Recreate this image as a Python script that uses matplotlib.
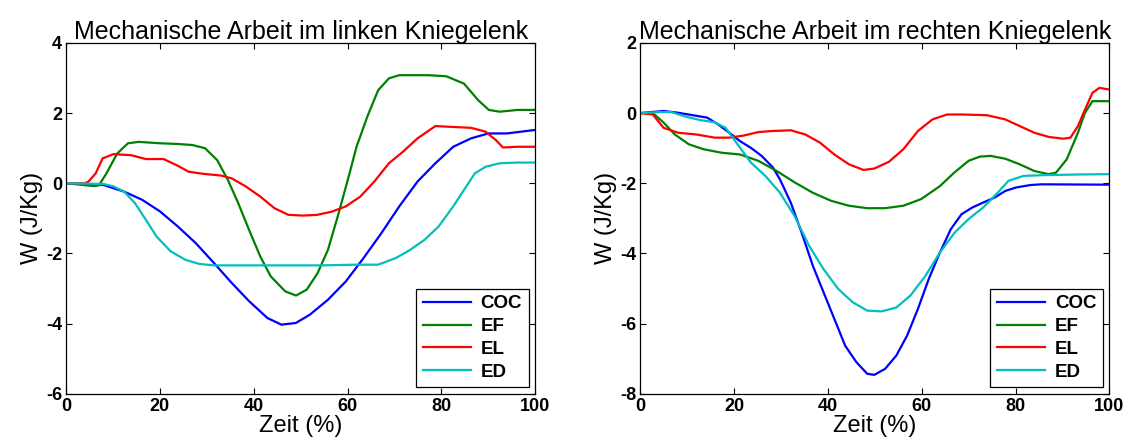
import matplotlib
matplotlib.use("Agg")
import matplotlib.pyplot as plt

plt.rcParams["font.family"] = ["Liberation Sans", "DejaVu Sans"]
plt.rcParams["axes.unicode_minus"] = False

SERIES = ["COC", "EF", "EL", "ED"]
COLORS = {"COC": "#0000ff", "EF": "#008000", "EL": "#ff0000", "ED": "#00bfbf"}

# left knee
left_coc_x = [0, 8, 12.4, 16.2, 20, 23.8, 27.6, 31.5, 35.3, 39, 42.9, 45.9, 49, 52, 55.8, 59.6,
              63.4, 67.2, 71, 74.9, 78.7, 82.5, 86.3, 90, 93.9, 100]
left_coc_y = [0, -0.05, -0.24, -0.47, -0.8, -1.23, -1.7, -2.27, -2.84, -3.36, -3.84, -4.03, -3.98,
              -3.74, -3.32, -2.8, -2.13, -1.42, -0.66, 0.05, 0.57, 1.04, 1.28, 1.42, 1.42, 1.52]
left_ef_x = [0, 6, 7, 8.6, 10.9, 13.2, 15.5, 20, 23.8, 26.9, 29.6, 32.2, 34.5, 36.7, 39, 41.4, 43.6,
             46.7, 49, 51.3, 53.6, 55.8, 58.1, 60.4, 61.9, 64.2, 66.5, 68.8, 71, 77.2, 81, 84.8,
             87.8, 90.1, 92.4, 96.2, 100]
left_ef_y = [0, -0.08, -0.06, 0.28, 0.85, 1.14, 1.18, 1.14, 1.12, 1.09, 1.0, 0.66, 0.09, -0.57,
             -1.33, -2.09, -2.65, -3.08, -3.2, -3.03, -2.56, -1.9, -0.85, 0.28, 1.04, 1.9, 2.65,
             2.99, 3.08, 3.08, 3.05, 2.84, 2.37, 2.09, 2.04, 2.09, 2.09]
left_el_x = [0, 4, 4.8, 6.3, 7.8, 10.1, 13.9, 17, 20.8, 23.8, 26.1, 29.2, 33, 35.3, 38.3, 41.4,
             44.4, 47.4, 50.5, 53.5, 56.6, 59.6, 62.7, 65.7, 68.8, 71.8, 74.9, 78.7, 81.7, 86.3,
             89.4, 91.6, 93.1, 96.2, 100]
left_el_y = [0, 0, 0.05, 0.28, 0.71, 0.83, 0.8, 0.69, 0.69, 0.5, 0.33, 0.27, 0.22, 0.14, -0.09,
             -0.38, -0.71, -0.9, -0.92, -0.9, -0.81, -0.66, -0.38, 0.05, 0.57, 0.9, 1.28, 1.63,
             1.61, 1.58, 1.47, 1.23, 1.02, 1.04, 1.04]
left_ed_x = [0, 8, 10.1, 12.4, 14.7, 17, 19.3, 22.3, 25.4, 28.4, 31.5, 54.3, 61.9, 66.5, 70.3,
             73.3, 76.4, 79.4, 82.5, 84.8, 87.1, 89.4, 92.4, 96.2, 100]
left_ed_y = [0, -0.02, -0.09, -0.24, -0.57, -1.04, -1.52, -1.94, -2.18, -2.3, -2.34, -2.34, -2.32,
             -2.32, -2.13, -1.9, -1.61, -1.23, -0.66, -0.19, 0.28, 0.47, 0.57, 0.59, 0.59]

# right knee
right_coc_x = [0, 5, 8.1, 11.2, 14.3, 16.6, 19, 21.3, 23.6, 25.9, 28.3, 29.8, 32.1, 34.4, 36.8,
               39.1, 41.4, 43.7, 46.1, 48.4, 49.9, 52.2, 54.6, 56.9, 59.2, 61.5, 63.9, 66.2, 68.5,
               70.8, 73.1, 75.5, 77.8, 80.1, 83.2, 85.5, 100]
right_coc_y = [0, 0.06, 0.01, -0.06, -0.13, -0.32, -0.56, -0.8, -0.99, -1.22, -1.55, -1.89, -2.55,
               -3.4, -4.35, -5.11, -5.87, -6.63, -7.1, -7.43, -7.46, -7.29, -6.91, -6.34, -5.58,
               -4.73, -3.97, -3.31, -2.88, -2.69, -2.55, -2.41, -2.22, -2.12, -2.05, -2.03, -2.04]
right_ef_x = [0, 2.7, 5, 7.4, 10.4, 13.5, 17.4, 21.3, 25.2, 29.1, 33, 36.8, 40.7, 44.5, 48.4, 52.2,
              56.1, 59.9, 63.9, 66.9, 70, 72.4, 74.7, 77.8, 80.9, 84, 87, 88.6, 90.9, 93.3, 94.8,
              96.4, 100]
right_ef_y = [0, 0, -0.27, -0.61, -0.89, -1.03, -1.13, -1.18, -1.36, -1.65, -1.98, -2.27, -2.5,
              -2.64, -2.71, -2.71, -2.64, -2.45, -2.08, -1.7, -1.36, -1.24, -1.22, -1.3, -1.46,
              -1.65, -1.74, -1.7, -1.32, -0.56, 0.01, 0.34, 0.34]
right_el_x = [0, 2.7, 5, 8.1, 12, 15.9, 19, 22.1, 25.2, 28.3, 32.1, 35.2, 38.3, 41.4, 44.5, 47.6,
              49.9, 53, 56.1, 59.2, 62.3, 65.4, 68.5, 73.9, 77.8, 80.9, 84, 87.1, 90.2, 91.7, 93.3,
              94.8, 96.4, 97.9, 100]
right_el_y = [0, -0.04, -0.42, -0.56, -0.61, -0.7, -0.7, -0.64, -0.54, -0.51, -0.49, -0.61, -0.84,
              -1.18, -1.46, -1.62, -1.58, -1.39, -1.03, -0.51, -0.18, -0.04, -0.04, -0.06, -0.18,
              -0.37, -0.56, -0.68, -0.73, -0.7, -0.37, 0.1, 0.58, 0.72, 0.67]
right_ed_x = [0, 4.3, 6.6, 9.7, 12.8, 15.9, 18.2, 20.5, 23.6, 26.7, 29.8, 32.9, 36, 39.1, 42.2,
              45.3, 48.4, 51.5, 54.6, 57.6, 60.8, 63.9, 67, 70, 73.1, 76.2, 78.5, 81.7, 85.5,
              93.3, 100]
right_ed_y = [0, 0.03, 0.03, -0.1, -0.2, -0.26, -0.42, -0.84, -1.41, -1.79, -2.27, -2.93, -3.78,
              -4.45, -5.01, -5.39, -5.63, -5.65, -5.54, -5.2, -4.64, -3.97, -3.41, -3.02, -2.69,
              -2.27, -1.93, -1.79, -1.77, -1.75, -1.74]

LEFT = {"COC": (left_coc_x, left_coc_y), "EF": (left_ef_x, left_ef_y),
        "EL": (left_el_x, left_el_y), "ED": (left_ed_x, left_ed_y)}
RIGHT = {"COC": (right_coc_x, right_coc_y), "EF": (right_ef_x, right_ef_y),
         "EL": (right_el_x, right_el_y), "ED": (right_ed_x, right_ed_y)}


def draw_panel(ax, data, title, ylim, yticks):
    for name in SERIES:
        x, y = data[name]
        ax.plot(x, y, color=COLORS[name], linewidth=1.6, label=name)
    ax.set_xlim(0, 100)
    ax.set_ylim(*ylim)
    ax.set_xticks([0, 20, 40, 60, 80, 100])
    ax.set_yticks(yticks)
    ax.tick_params(direction="in", top=True, right=True, length=4, width=0.8,
                   labelsize=13, pad=3)
    for lab in ax.get_xticklabels() + ax.get_yticklabels():
        lab.set_fontweight("bold")
    for sp in ax.spines.values():
        sp.set_linewidth(0.9)
    ax.set_title(title, fontsize=18, pad=3)
    ax.set_xlabel("Zeit (%)", fontsize=17, labelpad=0)
    ax.set_ylabel("W (J/Kg)", fontsize=17, labelpad=2)
    leg = ax.legend(loc="lower right", prop={"weight": "bold", "size": 13.5},
                    fancybox=False, framealpha=1, edgecolor="black", handlelength=2.6,
                    handletextpad=0.5, borderaxespad=0.35, labelspacing=0.3,
                    borderpad=0.35)
    leg.get_frame().set_linewidth(0.9)


fig = plt.figure(figsize=(11.39, 4.47), dpi=100)
ax1 = fig.add_axes([0.058, 0.119, 0.412, 0.785])
ax2 = fig.add_axes([0.562, 0.119, 0.412, 0.785])
draw_panel(ax1, LEFT, "Mechanische Arbeit im linken Kniegelenk", (-6, 4), [-6, -4, -2, 0, 2, 4])
draw_panel(ax2, RIGHT, "Mechanische Arbeit im rechten Kniegelenk", (-8, 2), [-8, -6, -4, -2, 0, 2])
fig.savefig("out.png", dpi=100)
